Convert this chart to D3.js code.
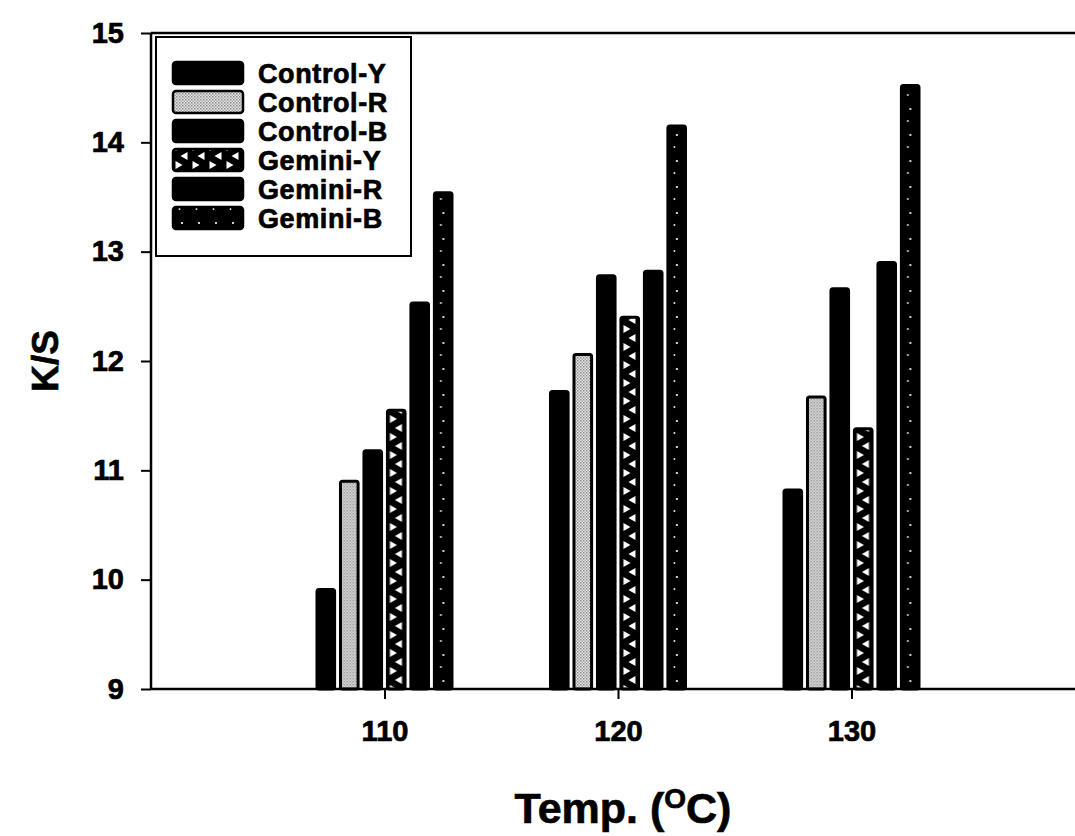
<!DOCTYPE html>
<html>
<head>
<meta charset="utf-8">
<script src="https://cdn.jsdelivr.net/npm/d3@7"></script>
<style>
  html, body { margin: 0; padding: 0; background: #ffffff; }
  svg { display: block; font-family: 'Liberation Sans', Arial, sans-serif; font-weight: bold; }
  svg text { stroke: #000000; stroke-width: 0.7px; }
</style>
</head>
<body>
<div id="chart"></div>
<script>
const temps = [110, 120, 130];
const seriesNames = ['Control-Y', 'Control-R', 'Control-B', 'Gemini-Y', 'Gemini-R', 'Gemini-B'];
const controlY = [9.91, 11.72, 10.82];
const controlR = [10.9, 12.06, 11.67];
const controlB = [11.18, 12.78, 12.66];
const geminiY = [11.55, 12.4, 11.38];
const geminiR = [12.53, 12.82, 12.9];
const geminiB = [13.54, 14.15, 14.52];
const yTicks = [9, 10, 11, 12, 13, 14, 15];
const xTicks = [110, 120, 130];

const seriesValues = [controlY, controlR, controlB, geminiY, geminiR, geminiB];
const fills = ['#000000', 'url(#pat-grey)', '#000000', 'url(#pat-tri)', '#000000', 'url(#pat-dots)'];

const width = 1075;
const height = 836;
const margin = { top: 33, left: 151, bottom: 147 };

const svg = d3
  .select('#chart')
  .append('svg')
  .attr('width', width)
  .attr('height', height);

// fill patterns (userSpaceOnUse, so each bar is drawn at x = 0 inside its own g)
const defs = svg.append('defs');

const grey = defs
  .append('pattern')
  .attr('id', 'pat-grey')
  .attr('patternUnits', 'userSpaceOnUse')
  .attr('width', 3)
  .attr('height', 3);
grey.append('rect').attr('width', 3).attr('height', 3).attr('fill', '#e6e6e6');
grey.append('rect').attr('width', 1.5).attr('height', 1.5).attr('fill', '#8a8a8a');
grey.append('rect').attr('x', 1.5).attr('y', 1.5).attr('width', 1.5).attr('height', 1.5).attr('fill', '#a8a8a8');

const tri = defs
  .append('pattern')
  .attr('id', 'pat-tri')
  .attr('patternUnits', 'userSpaceOnUse')
  .attr('width', 17)
  .attr('height', 18);
tri.append('rect').attr('width', 17).attr('height', 18).attr('fill', '#000000');
tri.append('path').attr('d', 'M2.5,1 L9.5,5 L2.5,9 Z').attr('fill', '#ffffff');
tri.append('path').attr('d', 'M14.5,10 L7.5,14 L14.5,18 Z').attr('fill', '#ffffff');

const dots = defs
  .append('pattern')
  .attr('id', 'pat-dots')
  .attr('patternUnits', 'userSpaceOnUse')
  .attr('width', 17)
  .attr('height', 26);
dots.append('rect').attr('width', 17).attr('height', 26).attr('fill', '#000000');
dots.append('circle').attr('cx', 9).attr('cy', 5).attr('r', 1.1).attr('fill', '#ffffff');
dots.append('circle').attr('cx', 6.5).attr('cy', 17).attr('r', 0.9).attr('fill', '#ffffff');

const x = d3.scaleLinear().domain([100, 140]).range([margin.left, margin.left + 934]);
const y = d3.scaleLinear().domain([9, 15]).range([height - margin.bottom, margin.top]);
const inner = d3.scaleBand().domain(seriesNames).range([-67.5, 67.5]).paddingInner(0.25);

const rows = [];
temps.forEach((t, i) => {
  seriesNames.forEach((s, j) => {
    rows.push({ temp: t, series: s, value: seriesValues[j][i], fill: fills[j] });
  });
});

// bars
svg
  .append('g')
  .selectAll('g')
  .data(rows)
  .join('g')
  .attr('transform', (d) => `translate(${x(d.temp) + inner(d.series)},0)`)
  .append('rect')
  .attr('x', 0)
  .attr('y', (d) => y(d.value))
  .attr('width', inner.bandwidth())
  .attr('height', (d) => y(9) - y(d.value))
  .attr('rx', 2)
  .attr('fill', (d) => d.fill)
  .attr('stroke', '#000000')
  .attr('stroke-width', 3);

// top frame line
svg
  .append('line')
  .attr('x1', margin.left)
  .attr('x2', x(140))
  .attr('y1', y(15))
  .attr('y2', y(15))
  .attr('stroke', '#000000')
  .attr('stroke-width', 2.5);

// axes
const yAxis = svg
  .append('g')
  .attr('transform', `translate(${margin.left},0)`)
  .call(d3.axisLeft(y).tickValues(yTicks).tickSize(10).tickPadding(17).tickFormat(d3.format('d')));

const xAxis = svg
  .append('g')
  .attr('transform', `translate(0,${y(9)})`)
  .call(d3.axisBottom(x).tickValues(xTicks).tickSize(10).tickPadding(21).tickFormat(d3.format('d')));

[yAxis, xAxis].forEach((a) => {
  a.select('.domain').attr('stroke-width', 2.5).attr('stroke', '#000000');
  a.selectAll('.tick line').attr('stroke-width', 2).attr('stroke', '#000000');
  a.selectAll('.tick text')
    .attr('font-size', 29)
    .attr('font-weight', 'bold')
    .attr('font-family', "'Liberation Sans', Arial, sans-serif")
    .attr('fill', '#000000');
});
yAxis.select('.domain').attr('d', `M-0,${y(9)}V${y(15)}`);
xAxis.select('.domain').attr('d', `M${margin.left},0H${x(140)}`);

// axis titles
svg
  .append('text')
  .attr('transform', `translate(58,${(y(9) + y(15)) / 2}) rotate(-90)`)
  .attr('text-anchor', 'middle')
  .attr('font-size', 37)
  .text('K/S');

const xt = svg
  .append('text')
  .attr('x', x(120) + 5)
  .attr('y', 823)
  .attr('text-anchor', 'middle')
  .attr('font-size', 43);
xt.append('tspan').text('Temp. (');
xt.append('tspan').attr('font-size', 28).attr('dy', -15).text('O');
xt.append('tspan').attr('dy', 15).text('C)');

// legend
const legend = svg.append('g');

legend
  .append('rect')
  .attr('x', 156)
  .attr('y', 37)
  .attr('width', 255)
  .attr('height', 219)
  .attr('fill', '#ffffff')
  .attr('stroke', '#000000')
  .attr('stroke-width', 2);

const items = legend
  .selectAll('g.item')
  .data(seriesNames)
  .join('g')
  .attr('class', 'item')
  .attr('transform', (d, i) => `translate(173,${73 + i * 29})`);

items
  .append('rect')
  .attr('x', 0)
  .attr('y', -11)
  .attr('width', 70)
  .attr('height', 22)
  .attr('rx', 3)
  .attr('fill', (d, i) => fills[i])
  .attr('stroke', '#000000')
  .attr('stroke-width', 2.5);

items
  .append('text')
  .attr('x', 85)
  .attr('y', 0)
  .attr('dy', '0.36em')
  .attr('font-size', 27)
  .attr('letter-spacing', 0.6)
  .text((d) => d);
</script>
</body>
</html>
